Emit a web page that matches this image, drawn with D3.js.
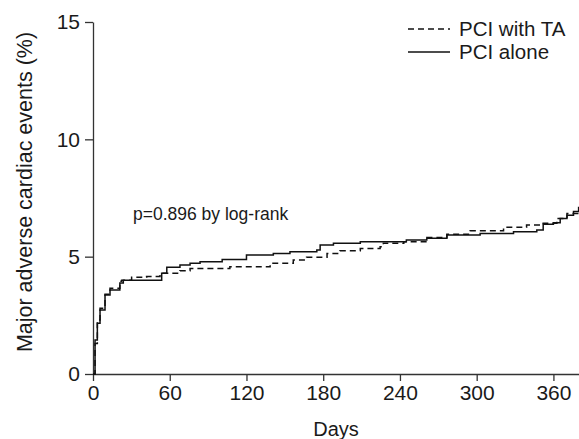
<!DOCTYPE html>
<html>
<head>
<meta charset="utf-8">
<script src="https://cdn.jsdelivr.net/npm/d3@7"></script>
<style>
  body { margin: 0; background: #fff; }
  text { font-family: "Liberation Sans", Arial, sans-serif; fill: #1a1a1a; }
  .axis path, .axis line { stroke: #333; stroke-width: 1.3; }
  .axis text { font-size: 21px; }
</style>
</head>
<body>
<div id="chart"></div>
<script>
// step curve values (days, %)
var aloneDays = [0, 1.6, 3.4, 5.5, 9.4, 13.3, 21, 23.7, 46, 53.7, 57.7, 68, 75.9, 83.7, 101, 120, 141, 154, 175, 177.6, 188, 209, 224.5, 245, 261, 276.7, 302.7, 328.8, 347, 352, 360, 365.3, 370.6, 375.7, 379.7];
var aloneVals = [0, 1.45, 2.16, 2.73, 3.37, 3.58, 3.88, 4.0, 4.0, 4.29, 4.55, 4.64, 4.72, 4.78, 4.88, 5.07, 5.14, 5.21, 5.28, 5.5, 5.57, 5.64, 5.64, 5.71, 5.78, 5.92, 5.99, 6.06, 6.14, 6.38, 6.45, 6.63, 6.77, 6.92, 7.13];

var taDays = [0, 1.6, 3.4, 5.5, 9.4, 13.3, 21, 22.4, 30.2, 41.9, 52.4, 68, 75.9, 107, 138.5, 156.6, 167, 183, 193, 209, 224.5, 227, 243, 261, 276.7, 294.9, 321, 339, 352, 362.7, 370.6, 379.7];
var taVals = [0, 1.3, 2.3, 2.8, 3.4, 3.65, 3.95, 4.0, 4.12, 4.15, 4.29, 4.4, 4.5, 4.57, 4.72, 4.86, 4.97, 5.14, 5.25, 5.35, 5.42, 5.57, 5.64, 5.82, 5.96, 6.1, 6.25, 6.35, 6.42, 6.63, 6.84, 6.99];

var xTicks = [0, 60, 120, 180, 240, 300, 360];
var yTicks = [0, 5, 10, 15];
var seriesNames = ["PCI with TA", "PCI alone"];

var width = 579, height = 439;
var margin = {top: 22, right: 0, bottom: 65, left: 93};

var x = d3.scaleLinear().domain([0, 380]).range([margin.left, width - margin.right]);
var y = d3.scaleLinear().domain([0, 15]).range([height - margin.bottom, margin.top]);

var svg = d3.select("#chart").append("svg")
  .attr("width", width)
  .attr("height", height);

//axes
svg.append("g")
    .attr("class", "axis")
    .attr("transform", "translate(0," + y(0) + ")")
    .call(d3.axisBottom(x).tickValues(xTicks).tickSize(7).tickSizeOuter(0).tickPadding(4));

svg.append("g")
    .attr("class", "axis")
    .attr("transform", "translate(" + x(0) + ",0)")
    .call(d3.axisLeft(y).tickValues(yTicks).tickSize(8).tickSizeOuter(0).tickPadding(5));

//lines
var line = d3.line()
  .x(function(d) { return x(d[0]); })
  .y(function(d) { return y(d[1]); })
  .curve(d3.curveStepAfter);

var alone = d3.zip(aloneDays, aloneVals);
var ta = d3.zip(taDays, taVals);

svg.append("path")
  .datum(ta)
  .attr("d", line)
  .attr("fill", "none")
  .attr("stroke", "#111")
  .attr("stroke-width", 1.5)
  .attr("stroke-dasharray", "6,4");

svg.append("path")
  .datum(alone)
  .attr("d", line)
  .attr("fill", "none")
  .attr("stroke", "#111")
  .attr("stroke-width", 1.5);

//axis titles
svg.append("text")
  .attr("x", 336)
  .attr("y", 436)
  .attr("text-anchor", "middle")
  .attr("font-size", 20)
  .text("Days");

svg.append("text")
  .attr("transform", "translate(32,192) rotate(-90)")
  .attr("text-anchor", "middle")
  .attr("font-size", 21.5)
  .text("Major adverse cardiac events (%)");

svg.append("text")
  .attr("x", 133)
  .attr("y", 220)
  .attr("font-size", 17.5)
  .text("p=0.896 by log-rank");

//legend
var legend = svg.selectAll(".legend")
    .data(seriesNames)
  .enter().append("g")
    .attr("class", "legend")
    .attr("transform", function(d, i) { return "translate(408," + (29 + i * 23) + ")"; });

legend.append("line")
  .attr("x1", 0).attr("x2", 42)
  .attr("stroke", "#111")
  .attr("stroke-width", 1.3)
  .attr("stroke-dasharray", function(d, i) { return i == 0 ? "6,4" : null; });

legend.append("text")
  .attr("x", 51)
  .attr("y", 7)
  .attr("font-size", 20.5)
  .text(function(d) { return d; });
</script>
</body>
</html>
